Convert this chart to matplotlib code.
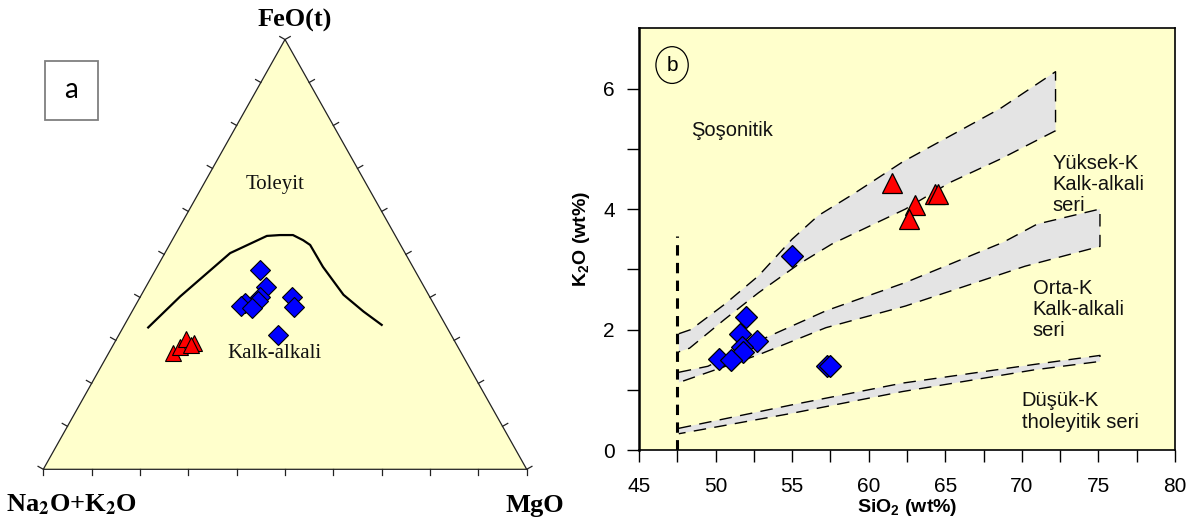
import matplotlib
matplotlib.use("Agg")
import matplotlib.pyplot as plt
import numpy as np
from matplotlib.patches import Rectangle, Ellipse, Polygon

plt.rcParams['mathtext.fontset'] = 'custom'
plt.rcParams['mathtext.bf'] = 'Liberation Sans:bold'
plt.rcParams['mathtext.rm'] = 'Liberation Sans'

YELLOW = '#ffffcc'
BAND = '#e4e4e4'

# --- AFM ternary data (wt%) ---
# boundary toleyit / kalk-alkali
bnd_F = [33.0, 40.2, 50.3, 54.3, 54.5, 54.5, 53.3, 52.2, 47.1, 40.6, 36.7, 33.6]
bnd_M = [5.2, 8.2, 13.5, 19.1, 21.7, 24.4, 27.1, 29.1, 34.3, 41.8, 47.9, 53.2]

# blue samples
dia_F = [46.4, 42.5, 40.1, 39.2, 38.7, 38.0, 37.5, 40.2, 37.8, 31.2]
dia_M = [21.6, 24.8, 24.8, 24.9, 22.4, 22.0, 24.4, 31.3, 33.0, 33.0]
# red samples
tri_F = [27.1, 28.5, 30.3, 29.3, 28.9]
tri_M = [13.2, 14.0, 14.4, 16.6, 16.1]

# --- K2O vs SiO2 data ---
sio2_blue = [55.0, 52.0, 51.6, 52.7, 51.7, 51.8, 50.2, 51.0, 57.3, 57.5]
k2o_blue = [3.22, 2.21, 1.92, 1.81, 1.71, 1.62, 1.51, 1.50, 1.40, 1.40]
sio2_red = [61.5, 63.0, 62.6, 64.3, 64.5]
k2o_red = [4.44, 4.06, 3.83, 4.25, 4.25]

# series bands (upper edge, lower edge)
hk_up_x = [47.6, 48.4, 50.6, 52.8, 55.0, 56.7, 59.0, 62.2, 68.6, 72.2]
hk_up_y = [1.93, 2.00, 2.42, 2.89, 3.50, 3.89, 4.25, 4.78, 5.67, 6.28]
hk_lo_x = [47.6, 48.3, 50.6, 52.8, 55.4, 57.6, 62.4, 65.3, 68.6, 72.2]
hk_lo_y = [1.63, 1.69, 2.17, 2.61, 3.08, 3.42, 4.00, 4.44, 4.83, 5.30]

mk_up_x = [47.6, 49.5, 52.8, 57.2, 62.4, 68.8, 71.0, 75.1]
mk_up_y = [1.29, 1.39, 1.81, 2.31, 2.78, 3.45, 3.75, 4.00]
mk_lo_x = [47.6, 52.8, 57.2, 62.4, 70.2, 75.1]
mk_lo_y = [1.12, 1.58, 2.03, 2.39, 3.05, 3.38]

lk_up_x = [47.6, 55.0, 62.2, 70.8, 75.1]
lk_up_y = [0.36, 0.75, 1.11, 1.42, 1.57]
lk_lo_x = [47.6, 55.0, 62.2, 70.8, 75.1]
lk_lo_y = [0.27, 0.61, 0.97, 1.33, 1.47]

divide_x = 47.5
divide_top = 3.55


def tern(F, M):
    F = np.asarray(F) / 100.0
    M = np.asarray(M) / 100.0
    return M + F / 2.0, F


fig = plt.figure(figsize=(11.93, 5.29), dpi=100)

# ---------------- panel a ----------------
ax1 = fig.add_axes([43.3 / 1193, 1 - 469.3 / 529, 483.4 / 1193, 429.8 / 529])
ax1.set_xlim(0, 1)
ax1.set_ylim(0, 1)
ax1.axis('off')

ax1.add_patch(Polygon([[0, 0], [1, 0], [0.5, 1]], closed=True, facecolor=YELLOW,
                      edgecolor='#222222', lw=0.9, zorder=1, clip_on=False))

# ticks every 10 %, perpendicular to each side
wpx, hpx = 483.4, 429.8
tl = 6.0
s = np.linspace(0, 1, 11)
L = np.hypot(wpx / 2, hpx)
nl = (-hpx / L, wpx / 2 / L)
nr = (hpx / L, wpx / 2 / L)
for t in s:
    ax1.plot([t, t], [0, -tl / hpx], color='#222222', lw=0.9, clip_on=False)
    lx, ly = t / 2, t
    ax1.plot([lx, lx + nl[0] * tl / wpx], [ly, ly + nl[1] * tl / hpx],
             color='#222222', lw=0.9, clip_on=False)
    rx, ry = 1 - t / 2, t
    ax1.plot([rx, rx + nr[0] * tl / wpx], [ry, ry + nr[1] * tl / hpx],
             color='#222222', lw=0.9, clip_on=False)

bx, by = tern(bnd_F, bnd_M)
ax1.plot(bx, by, color='black', lw=1.6, zorder=3)

dx, dy = tern(dia_F, dia_M)
ax1.plot(dx, dy, 'D', ms=9.8, mfc='#0000ff', mec='black', mew=0.8, ls='none', zorder=4)
tx, ty = tern(tri_F, tri_M)
ax1.plot(tx, ty, '^', ms=12, mfc='#ff0000', mec='black', mew=0.8, ls='none', zorder=4)

ax1.text(0.479, 0.6615, 'Toleyit', family='Liberation Serif', fontsize=15,
         ha='center', va='center', color='#111111')
ax1.text(0.479, 0.27, 'Kalk-alkali', family='Liberation Serif', fontsize=15,
         ha='center', va='center', color='#111111')

ax1.text(0.521, 1.03, 'FeO(t)', family='Liberation Serif', fontweight='bold',
         fontsize=19, ha='center', va='baseline', clip_on=False)
ax1.text(0.058, -0.099, r'Na$_\mathbf{2}$O+K$_\mathbf{2}$O', family='Liberation Serif',
         fontweight='bold', fontsize=19, ha='center', va='baseline',
         math_fontfamily='stix', clip_on=False)
ax1.text(1.016, -0.099, 'MgO', family='Liberation Serif', fontweight='bold',
         fontsize=19, ha='center', va='baseline', clip_on=False)

fig.add_artist(Rectangle((44.6 / 1193, 1 - 120 / 529), 52.9 / 1193, 59.2 / 529,
                         transform=fig.transFigure, facecolor='white',
                         edgecolor='#7f7f7f', lw=1.3))
fig.text(71 / 1193, 1 - 90.5 / 529, 'a', family='Lato', fontsize=20,
         ha='center', va='center')

# ---------------- panel b ----------------
ax2 = fig.add_axes([639 / 1193, 1 - 450 / 529, 536 / 1193, 421.7 / 529])
ax2.set_facecolor(YELLOW)
ax2.set_xlim(45, 80)
ax2.set_ylim(0, 7)

for ux, uy, lx, ly in [(hk_up_x, hk_up_y, hk_lo_x, hk_lo_y),
                       (mk_up_x, mk_up_y, mk_lo_x, mk_lo_y),
                       (lk_up_x, lk_up_y, lk_lo_x, lk_lo_y)]:
    px = list(ux) + list(lx)[::-1]
    py = list(uy) + list(ly)[::-1]
    ax2.fill(px, py, color=BAND, lw=0, zorder=1)
    ax2.plot(px, py, color='black', lw=1.0, dashes=(9, 6), zorder=2)

ax2.plot([divide_x, divide_x], [0, divide_top], color='black', lw=2.2,
         dashes=(3.4, 2.4), zorder=2)

ax2.plot(sio2_blue, k2o_blue, 'D', ms=11.5, mfc='#0000ff', mec='black', mew=0.9,
         ls='none', zorder=4)
ax2.plot(sio2_red, k2o_red, '^', ms=14.5, mfc='#ff0000', mec='black', mew=0.9,
         ls='none', zorder=4)

ax2.add_patch(Ellipse((47.16, 6.39), 2.11, 0.61, facecolor='none',
                      edgecolor='black', lw=0.9, zorder=3))
ax2.text(47.16, 6.39, 'b', family='Liberation Sans', fontsize=15,
         ha='center', va='center')

tfont = dict(family='Liberation Sans', fontsize=14.5, color='#111111')
ax2.text(48.4, 5.31, 'Şoşonitik', ha='left', va='center', **tfont)
ax2.text(72.0, 4.41, 'Yüksek-K\nKalk-alkali\nseri', ha='left', va='center',
         linespacing=1.15, **tfont)
ax2.text(70.7, 2.33, 'Orta-K\nKalk-alkali\nseri', ha='left', va='center',
         linespacing=1.15, **tfont)
ax2.text(70.0, 0.64, 'Düşük-K\ntholeyitik seri', ha='left', va='center',
         linespacing=1.15, **tfont)

ax2.set_xticks(np.arange(45, 81, 5))
ax2.set_xticks(np.arange(47.5, 80, 5), minor=True)
ax2.set_yticks([0, 2, 4, 6])
ax2.set_yticks([1, 3, 5], minor=True)
ax2.tick_params(which='both', direction='out', length=8.5, width=1.0, colors='black')
ax2.tick_params(axis='x', which='major', pad=11, labelsize=15)
ax2.tick_params(axis='y', which='major', pad=9, labelsize=15)
for lab in ax2.get_xticklabels() + ax2.get_yticklabels():
    lab.set_family('Liberation Sans')
for sp in ax2.spines.values():
    sp.set_linewidth(1.2)
ax2.spines['left'].set_linewidth(1.8)

ax2.set_xlabel(r'SiO$_\mathbf{2}$ (wt%)', family='Liberation Sans', fontweight='bold',
               fontsize=14, math_fontfamily='custom', labelpad=1)
ax2.set_ylabel(r'K$_\mathbf{2}$O (wt%)', family='Liberation Sans', fontweight='bold',
               fontsize=14, math_fontfamily='custom', labelpad=8)

fig.savefig('out.png', dpi=100)
